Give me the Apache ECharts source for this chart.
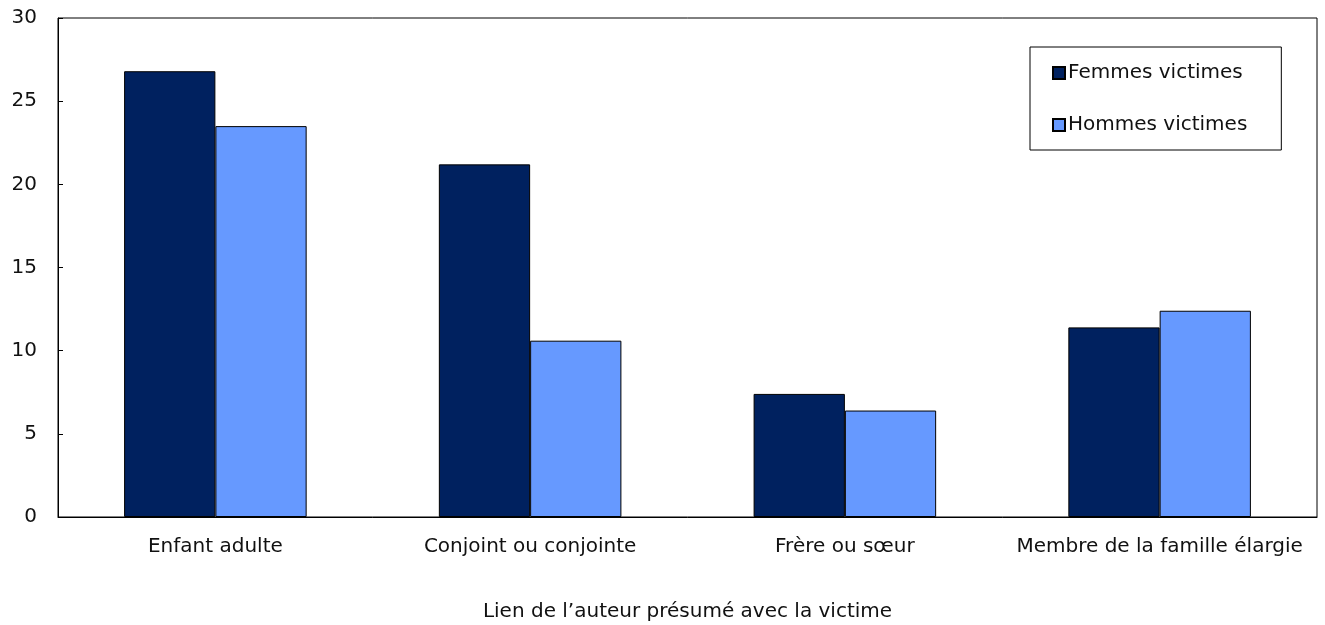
<!DOCTYPE html>
<html>
<head>
<meta charset="utf-8">
<script src="https://cdn.jsdelivr.net/npm/echarts@6/dist/echarts.min.js"></script>
<style>
  html, body { margin: 0; padding: 0; background: #fff; }
  #main { width: 1325px; height: 625px; }
</style>
</head>
<body>
<div id="main"></div>
<script>
var categories = ['Enfant adulte', 'Conjoint ou conjointe', 'Frère ou sœur', 'Membre de la famille élargie'];
var femmes = [26.8, 21.2, 7.4, 11.4];
var hommes = [23.5, 10.6, 6.4, 12.4];
var yTicks = [0, 5, 10, 15, 20, 25, 30];

var font = 'DejaVu Sans, Verdana, sans-serif';
var chart = echarts.init(document.getElementById('main'));

var option = {
  backgroundColor: '#ffffff',
  animation: false,
  textStyle: { fontFamily: font },
  grid: {
    left: 58,
    right: 8,
    top: 18,
    bottom: 108,
    outerBoundsMode: 'none',
    show: true,
    borderColor: '#000',
    borderWidth: 1
  },
  legend: {
    orient: 'vertical',
    left: 1030,
    top: 47,
    icon: 'rect',
    itemWidth: 12,
    itemHeight: 12,
    itemGap: 32,
    padding: [16, 34, 15, 22],
    borderColor: '#000',
    borderWidth: 1,
    textStyle: { fontFamily: font, fontSize: 20, color: '#111', padding: [0, 0, 0, -2] },
    data: ['Femmes victimes', 'Hommes victimes']
  },
  xAxis: {
    type: 'category',
    data: categories,
    name: 'Lien de l’auteur présumé avec la victime',
    nameLocation: 'middle',
    nameGap: 85,
    nameTextStyle: { fontFamily: font, fontSize: 20, color: '#111' },
    axisLine: { lineStyle: { color: '#000' } },
    axisTick: { inside: true, length: 5, lineStyle: { color: '#000' } },
    axisLabel: { fontFamily: font, fontSize: 20, color: '#111', margin: 20, interval: 0 }
  },
  yAxis: {
    type: 'value',
    min: yTicks[0],
    max: yTicks[yTicks.length - 1],
    interval: 5,
    splitLine: { show: false },
    axisLine: { show: true, lineStyle: { color: '#000' } },
    axisTick: { show: true, inside: true, length: 5, lineStyle: { color: '#000' } },
    axisLabel: { fontFamily: font, fontSize: 20, color: '#111', margin: 21 }
  },
  series: [
    {
      name: 'Femmes victimes',
      type: 'bar',
      data: femmes,
      barGap: '0%',
      barCategoryGap: '42%',
      itemStyle: { color: '#00215F', borderColor: '#000', borderWidth: 1 }
    },
    {
      name: 'Hommes victimes',
      type: 'bar',
      data: hommes,
      itemStyle: { color: '#6699FF', borderColor: '#000', borderWidth: 1 }
    }
  ]
};

chart.setOption(option);
</script>
</body>
</html>
